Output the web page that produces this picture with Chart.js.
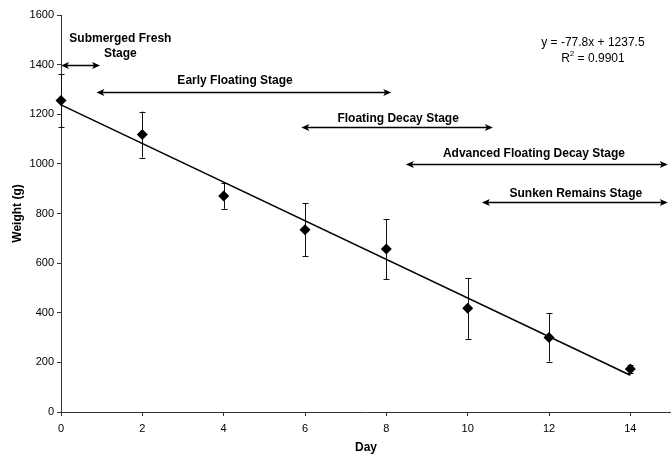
<!DOCTYPE html>
<html>
<head>
<meta charset="utf-8">
<script src="https://cdn.jsdelivr.net/npm/chart.js@4.4.0/dist/chart.umd.min.js"></script>
<style>
    html, body { margin: 0; padding: 0; background: #fff; }
    #wrap { width: 671px; height: 456px; position: relative; }
</style>
</head>
<body>
<div id="wrap"><canvas id="weight-chart"></canvas></div>
<script>
// --- DATA ---
const days = [0, 2, 4, 6, 8, 10, 12, 14];
const meanWeight = [1255, 1118, 871, 735, 657, 418, 300, 173];
const weightSD = [108, 93, 52, 107, 121, 123, 97, 17];

const trendDays = [0, 14];
const trendWeight = [1237.5, 148.3];

const xTickValues = [0, 2, 4, 6, 8, 10, 12, 14];
const yTickValues = [0, 200, 400, 600, 800, 1000, 1200, 1400, 1600];

const stageNames = [['Submerged Fresh', 'Stage'], ['Early Floating Stage'], ['Floating Decay Stage'],
    ['Advanced Floating Decay Stage'], ['Sunken Remains Stage']];
const stageStart = [0, 0.87, 5.91, 8.48, 10.35];
const stageEnd = [0.96, 8.12, 10.62, 14.92, 14.92];
const stageLevel = [1400, 1290, 1150, 1000, 845];
// where each stage label sits (day, weight)
const stageLabelDay = [1.46, 4.28, 8.29, 11.63, 12.66];
const stageLabelWeight = [1474, 1335, 1181, 1040, 879];

const equationText = 'y = -77.8x + 1237.5';
const rSquaredText = ' = 0.9901';

const FONT = "'Liberation Sans', Arial, sans-serif";

const drawHead = (ctx, x, y, dir) => {
    ctx.beginPath();
    ctx.moveTo(x, y);
    ctx.lineTo(x - dir * 8, y - 3.5);
    ctx.lineTo(x - dir * 6, y);
    ctx.lineTo(x - dir * 8, y + 3.5);
    ctx.closePath();
    ctx.fill();
};

const annotations = {
    id: 'annotations',
    beforeDatasetsDraw(chart) {
        // error bars
        const { ctx, scales: { x, y } } = chart;
        ctx.save();
        ctx.strokeStyle = '#111';
        ctx.lineWidth = 1;
        days.forEach((d, i) => {
            const px = Math.round(x.getPixelForValue(d)) + 0.5;
            const top = y.getPixelForValue(meanWeight[i] + weightSD[i]);
            const bot = y.getPixelForValue(meanWeight[i] - weightSD[i]);
            ctx.beginPath();
            ctx.moveTo(px, top); ctx.lineTo(px, bot);
            ctx.moveTo(px - 3, Math.round(top) + 0.5); ctx.lineTo(px + 3, Math.round(top) + 0.5);
            ctx.moveTo(px - 3, Math.round(bot) + 0.5); ctx.lineTo(px + 3, Math.round(bot) + 0.5);
            ctx.stroke();
        });
        ctx.restore();
    },
    afterDatasetsDraw(chart) {
        const { ctx, scales: { x, y } } = chart;
        ctx.save();
        ctx.strokeStyle = '#000';
        ctx.fillStyle = '#000';
        ctx.lineWidth = 1.5;
        stageNames.forEach((lines, i) => {
            const x0 = x.getPixelForValue(stageStart[i]);
            const x1 = x.getPixelForValue(stageEnd[i]);
            const py = Math.round(y.getPixelForValue(stageLevel[i])) + 0.5;
            ctx.beginPath();
            ctx.moveTo(x0 + 4, py); ctx.lineTo(x1 - 4, py);
            ctx.stroke();
            drawHead(ctx, x0, py, -1);
            drawHead(ctx, x1, py, 1);

            ctx.font = `bold 12px ${FONT}`;
            ctx.textAlign = 'center';
            ctx.textBaseline = 'middle';
            const cx = x.getPixelForValue(stageLabelDay[i]);
            const cy = y.getPixelForValue(stageLabelWeight[i]);
            const lh = 15;
            lines.forEach((t, k) => {
                ctx.fillText(t, cx, cy + (k - (lines.length - 1) / 2) * lh);
            });
        });

        // trendline equation
        ctx.font = `12px ${FONT}`;
        ctx.textAlign = 'center';
        ctx.textBaseline = 'middle';
        const ex = x.getPixelForValue(13.08);
        ctx.fillText(equationText, ex, y.getPixelForValue(1488));
        const ry = y.getPixelForValue(1423);
        const wR = ctx.measureText('R').width;
        ctx.font = `8px ${FONT}`;
        const w2 = ctx.measureText('2').width;
        ctx.font = `12px ${FONT}`;
        const wRest = ctx.measureText(rSquaredText).width;
        let sx = ex - (wR + w2 + wRest) / 2;
        ctx.textAlign = 'left';
        ctx.fillText('R', sx, ry);
        ctx.font = `8px ${FONT}`;
        ctx.fillText('2', sx + wR, ry - 5);
        ctx.font = `12px ${FONT}`;
        ctx.fillText(rSquaredText, sx + wR + w2, ry);
        ctx.restore();
    }
};

const chartCtx = document.getElementById('weight-chart').getContext('2d');
const weightChart = new Chart(chartCtx, {
    type: 'scatter',
    data: {
        datasets: [
            {
                label: 'Trend',
                type: 'line',
                data: trendDays.map((d, i) => ({ x: d, y: trendWeight[i] })),
                borderColor: '#000',
                borderWidth: 1.5,
                pointRadius: 0,
                fill: false,
                clip: false,
                order: 2
            },
            {
                label: 'Weight',
                data: days.map((d, i) => ({ x: d, y: meanWeight[i] })),
                pointStyle: 'rectRot',
                pointRadius: 5.5,
                backgroundColor: '#000',
                borderColor: '#000',
                borderWidth: 0,
                clip: false,
                order: 1
            }
        ]
    },
    options: {
        responsive: true,
        maintainAspectRatio: false,
        animation: false,
        layout: { autoPadding: false, padding: { top: 15, right: 0, left: 0, bottom: 0 } },
        plugins: {
            legend: { display: false },
            tooltip: { enabled: false }
        },
        scales: {
            x: {
                type: 'linear',
                min: 0,
                max: 15,
                afterBuildTicks: (scale) => { scale.ticks = xTickValues.map(v => ({ value: v })); },
                afterFit: (scale) => { scale.height = 44; scale.paddingRight = 0; },
                grid: { drawOnChartArea: false, drawTicks: true, tickLength: 4, color: '#333' },
                border: { color: '#333', width: 1 },
                ticks: { color: '#000', padding: 6, font: { family: FONT, size: 11 }, callback: (v) => String(v) },
                title: {
                    display: true,
                    text: 'Day',
                    color: '#000',
                    padding: { top: 0, bottom: 1 },
                    font: { family: FONT, size: 12, weight: 'bold' }
                }
            },
            y: {
                min: 0,
                max: 1600,
                afterBuildTicks: (scale) => { scale.ticks = yTickValues.map(v => ({ value: v })); },
                afterFit: (scale) => { scale.width = 61; },
                grid: { drawOnChartArea: false, drawTicks: true, tickLength: 4, color: '#333' },
                border: { color: '#333', width: 1 },
                ticks: { color: '#000', padding: 3, font: { family: FONT, size: 11 }, callback: (v) => String(v) },
                title: {
                    display: true,
                    text: 'Weight (g)',
                    color: '#000',
                    padding: { top: 10, bottom: 0 },
                    font: { family: FONT, size: 12, weight: 'bold' }
                }
            }
        }
    },
    plugins: [annotations]
});
</script>
</body>
</html>
